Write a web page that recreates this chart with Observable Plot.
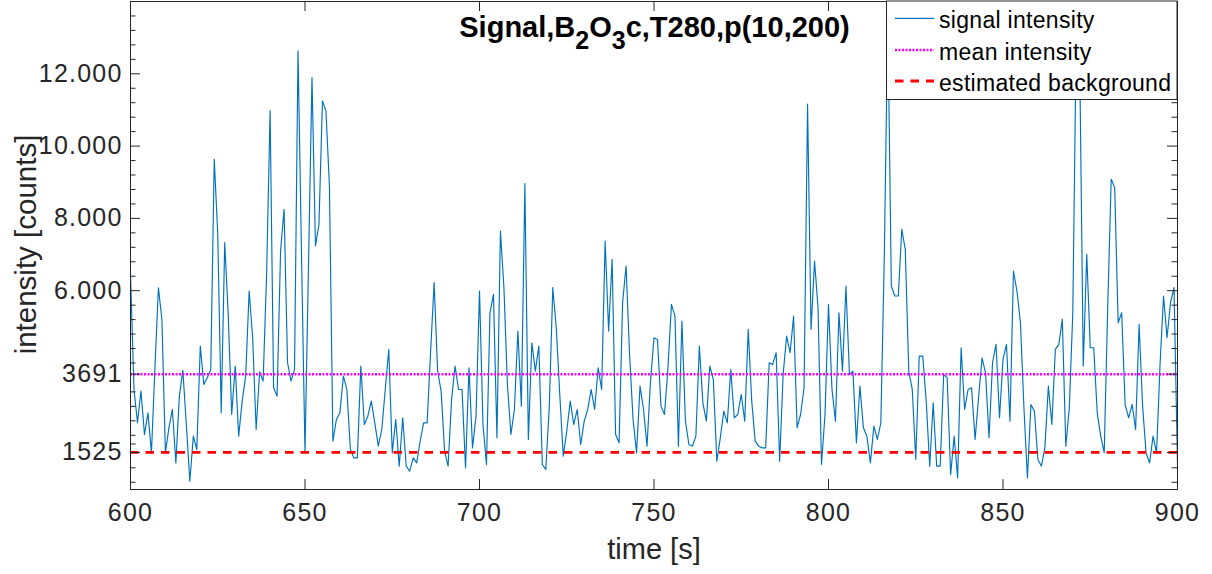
<!DOCTYPE html>
<html>
<head>
<meta charset="utf-8">
<script src="https://cdn.jsdelivr.net/npm/d3@7"></script>
<script src="https://cdn.jsdelivr.net/npm/@observablehq/plot@0.6"></script>
<style>
  html, body { margin: 0; padding: 0; background: #fff; }
  #chart { position: relative; width: 1212px; height: 574px; }
  #chart svg g[aria-label="x-axis tick label"] text,
  #chart svg g[aria-label="y-axis tick label"] text { letter-spacing: 1.2px; }
</style>
</head>
<body>
<div id="chart"></div>
<script>
// ---- data ----
const timeStart = 600, timeEnd = 900;          // one sample per second
const signal = [
  6450,3270,2345,3220,2020,2620,1515,3870,6080,5205,
  1515,2205,2715,1237,3083,3794,2300,730,1975,1606,
  4467,3406,3590,3821,9636,7559,2621,7329,5344,2575,
  3913,1975,2944,3637,5990,4698,2160,3757,3498,6452,
  10975,3314,3083,7098,8252,4006,3498,3821,12636,7000,
  1515,6700,11898,7236,7836,11251,10975,8900,1837,2437,
  2621,3637,3267,1606,1375,1375,3913,2298,2529,2944,
  2344,1698,2160,3267,4375,1514,2437,1145,2483,1145,
  1006,1375,1237,1837,2344,2344,4330,6221,3775,3221,
  1560,1145,2990,3913,3267,3267,1098,3867,1652,2529,
  5990,2298,1190,5390,5898,1929,7652,6083,3406,2021,
  2714,4883,2806,8962,1883,4560,3775,4467,1191,1052,
  2806,6083,4975,3129,1421,2114,2944,2298,2714,1744,
  2391,2714,3267,2714,3867,3267,7375,4883,6867,2021,
  1791,5667,6683,4237,2437,1514,3360,2714,1698,3498,
  4698,4652,2806,2575,3867,5621,5298,1698,5160,2391,
  1744,1698,1975,4467,2898,2391,3913,3544,1283,1929,
  2667,2344,3821,2483,2575,3129,2391,4929,2944,1837,
  1698,1652,1652,4006,3960,4283,1283,3683,4744,4283,
  5298,2206,2575,3314,11159,4929,6821,5529,1191,2575,
  5621,3267,2391,5390,3775,6129,3683,3775,1791,3360,
  2206,1975,1237,2252,1883,2344,7000,13600,6129,5852,
  5852,7698,7144,3775,3267,1329,4190,4190,2944,1145,
  2898,1145,1145,3683,3590,914,1975,821,4421,2714,
  3267,3314,1883,3037,4144,3729,1929,4006,4513,2483,
  4098,4513,2391,6544,5990,5113,2760,821,2852,2667,
  1329,1145,1652,3360,2298,4375,4513,5206,1698,2760,
  5390,13200,12200,3913,7006,4421,4421,2621,1975,1514,
  5529,9082,8851,5113,5390,2852,2483,2852,2160,5067,
  2806,1514,1237,1975,1514,3960,5852,4698,5667,6083,
  1200
];
const meanIntensity = 3691;
const estimatedBackground = 1525;

const xTicks = [600, 650, 700, 750, 800, 850, 900];
const yTicks = [1525, 3691, 6000, 8000, 10000, 12000];
const yTickLabels = ["1525", "3691", "6.000", "8.000", "10.000", "12.000"];
const yMinorTicks = [700, 1100, 1760, 2000, 2400, 2800, 3200, 4000, 4400, 4800, 5200, 5600,
  6400, 6800, 7200, 7600, 8400, 8800, 9200, 9600, 10400, 10800, 11200, 11600,
  12400, 12800, 13200, 13600];

const titleParts = [["Signal,B", false], ["2", true], ["O", false], ["3", true], ["c,T280,p(10,200)", false]];
const xLabel = "time [s]";
const yLabel = "intensity [counts]";
const legendItems = ["signal intensity", "mean intensity", "estimated background"];

// ---- table ----
const times = d3.range(timeStart, timeEnd + 1);
const data = signal.map((v, i) => ({t: times[i], v}));

const W = 1212, H = 574;
const mL = 130, mR = 35, mT = 1, mB = 85;
const plotW = W - mL - mR, plotH = H - mT - mB;
const axisColor = "#262626";
const font = "'Liberation Sans', Arial, Helvetica, sans-serif";

const chart = Plot.plot({
  width: W,
  height: H,
  marginLeft: mL, marginRight: mR, marginTop: mT, marginBottom: mB,
  style: {fontFamily: font, fontSize: "25px", color: axisColor, background: "#fff", overflow: "visible"},
  x: {domain: [timeStart, timeEnd], ticks: xTicks, tickSize: 0, tickPadding: 14, label: null},
  y: {domain: [500, 14000], ticks: yTicks, tickFormat: d => yTickLabels[yTicks.indexOf(d)], tickSize: 0, tickPadding: 8, label: null},
  marks: [
    Plot.line(data, {x: "t", y: "v", stroke: "#0072BD", strokeWidth: 1.15}),
    Plot.ruleY([meanIntensity], {stroke: "#FF00FF", strokeWidth: 2.5, strokeDasharray: "2,1.5"}),
    Plot.ruleY([estimatedBackground], {stroke: "#FF0000", strokeWidth: 2.8, strokeDasharray: "8.5,7"}),
    // inward tick marks (MATLAB style), bottom/top
    Plot.tickX(xTicks, {x: d => d, stroke: axisColor, insetTop: plotH - 10}),
    Plot.tickX(xTicks, {x: d => d, stroke: axisColor, insetBottom: plotH - 10}),
    // left/right major
    Plot.tickY(yTicks, {y: d => d, stroke: axisColor, insetRight: plotW - 10}),
    Plot.tickY(yTicks, {y: d => d, stroke: axisColor, insetLeft: plotW - 10}),
    // left/right minor
    Plot.tickY(yMinorTicks, {y: d => d, stroke: axisColor, insetRight: plotW - 5.5}),
    Plot.tickY(yMinorTicks, {y: d => d, stroke: axisColor, insetLeft: plotW - 5.5}),
    Plot.frame({stroke: axisColor, strokeWidth: 1}),
    Plot.text([xLabel], {text: d => d, frameAnchor: "bottom", textAnchor: "middle", lineAnchor: "middle", dy: 60, fontSize: 29, fill: axisColor}),
    Plot.text([yLabel], {text: d => d, frameAnchor: "left", textAnchor: "middle", lineAnchor: "middle", dx: -104, dy: -1, rotate: -90, fontSize: 29.5, fill: axisColor})
  ]
});

document.getElementById("chart").appendChild(chart);

// ---- title and legend drawn inside the axes, as in the reference ----
const svg = d3.select(chart);
const title = svg.append("text")
  .attr("x", mL + plotW / 2 + 1)
  .attr("y", 36.5)
  .attr("text-anchor", "middle")
  .attr("font-family", font)
  .attr("font-weight", "bold")
  .attr("font-size", 29)
  .attr("fill", "#000");
let lowered = false;
titleParts.forEach(([s, sub]) => {
  const ts = title.append("tspan").text(s);
  if (sub && !lowered) { ts.attr("dy", 12.5).attr("font-size", 25); lowered = true; }
  else if (!sub && lowered) { ts.attr("dy", -12.5).attr("font-size", 29); lowered = false; }
  else if (sub) { ts.attr("font-size", 25); }
});

const lg = svg.append("g");
const lgLeft = 886.5, lgTop = 1, lgRight = mL + plotW;
lg.append("rect")
  .attr("x", lgLeft).attr("y", lgTop)
  .attr("width", lgRight - lgLeft).attr("height", 98.5)
  .attr("fill", "#fff").attr("stroke", axisColor).attr("stroke-width", 1);
const rowLineY = [18.3, 50, 81];
const rowBaseY = [28.3, 60, 90.7];
const swatch = [
  {stroke: "#0072BD", width: 1.15, dash: null},
  {stroke: "#FF00FF", width: 2.5, dash: "2,1.5"},
  {stroke: "#FF0000", width: 2.8, dash: "8.5,7"}
];
legendItems.forEach((label, i) => {
  const l = lg.append("line")
    .attr("x1", 895).attr("x2", 934)
    .attr("y1", rowLineY[i]).attr("y2", rowLineY[i])
    .attr("stroke", swatch[i].stroke).attr("stroke-width", swatch[i].width);
  if (swatch[i].dash) l.attr("stroke-dasharray", swatch[i].dash);
  lg.append("text")
    .attr("x", 939).attr("y", rowBaseY[i])
    .attr("text-anchor", "start")
    .attr("font-family", font).attr("font-size", 23)
    .attr("letter-spacing", "0.3px")
    .attr("fill", "#000")
    .text(label);
});
</script>
</body>
</html>
